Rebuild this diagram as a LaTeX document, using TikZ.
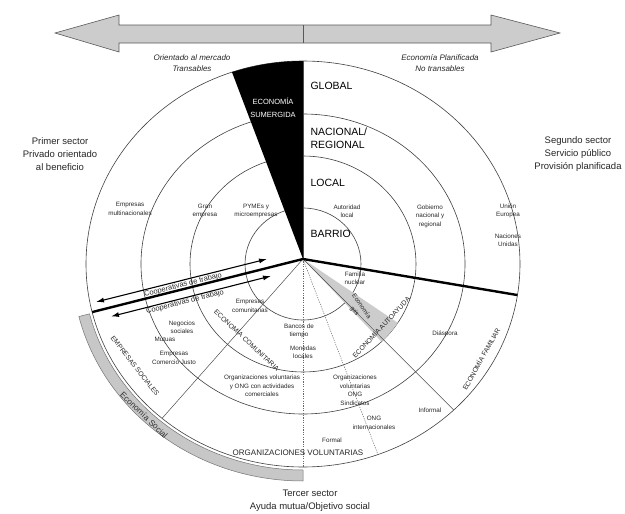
\documentclass[tikz,border=0pt]{standalone}
\usepackage{fontspec}
\setmainfont{Liberation Sans}
\usetikzlibrary{arrows.meta}
\begin{document}
\begin{tikzpicture}[x=1pt,y=-1pt,
  ring/.style={draw=black!75, line width=0.6pt},
  thin/.style={draw=black!70, line width=0.5pt},
  thick/.style={draw=black, line width=2.4pt},
  dots/.style={draw=black!60, line width=0.5pt, dash pattern=on 1.2pt off 1.2pt},
  coop/.style={draw=black, line width=1.1pt, {Latex[length=8pt,width=5pt]}-{Latex[length=8pt,width=5pt]}},
  lvl/.style={font=\fontsize{10.5}{13}\selectfont, anchor=west, align=left},
  sm/.style={font=\fontsize{6.3}{8.5}\selectfont, align=center, text=black!85},
  rl/.style={font=\fontsize{6.8}{8}\selectfont, text=black!85},
  sec/.style={font=\fontsize{9.5}{13}\selectfont, align=center, text=black!85},
  ital/.style={font=\fontsize{8}{11.5}\selectfont\itshape, align=center, text=black!85}]
\useasboundingbox (0,0) rectangle (625,514);

% top arrow
\filldraw[fill=black!20, draw=black!65, line width=0.6pt]
  (55,33) -- (119,15) -- (119,25) -- (491,25) -- (491,15) -- (560,33)
  -- (491,52) -- (491,43) -- (119,43) -- (119,52) -- cycle;
\draw[black!65, line width=0.6pt] (303,25) -- (303,43);
\node[ital] (om) at (192,63) {Orientado al mercado\\Transables};
\node[ital] (ep) at (440,63) {Economía Planificada\\No transables};

\begin{scope}[shift={(303,264)}]
  % gray band Economia Social
  \filldraw[fill=black!22, draw=black!55, line width=0.5pt]
    (90:220 and 206) arc[start angle=90, end angle=166, x radius=220, y radius=206]
    -- (166:231 and 217) arc[start angle=166, end angle=90, x radius=231, y radius=217] -- cycle;
  % rings
  \draw[ring] (0,0) ellipse [x radius=217, y radius=203];
  \draw[ring] (0,0) ellipse [x radius=162, y radius=150];
  \draw[ring] (0,0) ellipse [x radius=113, y radius=108];
  \draw[ring] (0,0) ellipse [x radius=58, y radius=56];
  \coordinate (hub) at (0,-5);
  % black wedge
  \fill[black] (hub) -- (-109.1:217 and 203)
    arc[start angle=-109.1, end angle=-90, x radius=217, y radius=203] -- cycle;
  % gray wedge (economia gris)
  \fill[black!20] (hub) -- (33:113 and 108) arc[start angle=33, end angle=46, x radius=113, y radius=108] -- cycle;
  \coordinate (top) at (-90:217 and 203);
  \coordinate (ll) at (130.5:217 and 203);
  \coordinate (dr) at (46:217 and 203);
  \coordinate (db) at (90:217 and 203);
  \coordinate (dd) at (69.8:217 and 203);
  \coordinate (tr) at (8.8:217 and 203);
  \coordinate (tl) at (166.3:217 and 203);
\end{scope}

\draw[thin] (hub) -- (top);
\draw[thin] (hub) -- (ll);
\draw[thin] (hub) -- (dr);
\draw[dots] (hub) -- (db);
\draw[dots] (hub) -- (dd);
\draw[thick] (hub) -- (tr);
\draw[thick] (hub) -- (tl);

% cooperativas arrows
\coordinate (c1a) at (96,302);
\coordinate (c1b) at (267,259);
\coordinate (c2a) at (111,316.5);
\coordinate (c2b) at (271,276);
\draw[coop] (c1a) -- (c1b);
\draw[coop] (c2a) -- (c2b);
\node[rl, rotate=14.1, font=\fontsize{7.5}{9}\selectfont, inner sep=1pt] (co1) at (183,285) {Cooperativas de trabajo};
\node[rl, rotate=14.1, font=\fontsize{7.5}{9}\selectfont, inner sep=1pt] (co2) at (185,302) {Cooperativas de trabajo};

% level labels
\node[lvl] (gl) at (307,86) {GLOBAL};
\node[lvl] (nr) at (307,138) {NACIONAL/\\REGIONAL};
\node[lvl] (lo) at (307,183) {LOCAL};
\node[lvl] (ba) at (307,234) {BARRIO};
\node[font=\fontsize{7.5}{12.5}\selectfont, text=white, align=center] (es) at (273,108) {ECONOMÍA\\SUMERGIDA};

% sector labels
\node[sec] (s1) at (60,154) {Primer sector\\Privado orientado\\al beneficio};
\node[sec] (s2) at (578,154) {Segundo sector\\Servicio público\\Provisión planificada};
\node[sec] (s3) at (310,501) {Tercer sector\\Ayuda mutua/Objetivo social};

% small labels, upper half
\node[sm] (a1) at (130,209) {Empresas\\multinacionales};
\node[sm] (a2) at (205,211) {Gran\\empresa};
\node[sm] (a3) at (256,211) {PYMEs y\\microempresas};
\node[sm] (a4) at (347,211) {Autoridad\\local};
\node[sm] (a5) at (430,216) {Gobierno\\nacional y\\regional};
\node[sm] (a6) at (508,211) {Unión\\Europea};
\node[sm] (a7) at (508,240) {Naciones\\Unidas};

% small labels, lower half
\node[sm] (b1) at (355,278) {Familia\\nuclear};
\node[sm] (b2) at (250,306) {Empresas\\comunitarias};
\node[sm] (b3) at (182,327) {Negocios\\sociales};
\node[sm] (b4) at (165,339) {Mutuas};
\node[sm] (b5) at (174,358) {Empresas\\Comercio Justo};
\node[sm] (b6) at (299,331) {Bancos de\\tiempo};
\node[sm] (b7) at (303,352) {Monedas\\locales};
\node[sm] (b8) at (445,334) {Diáspora};
\node[sm] (b9) at (262,386) {Organizaciones voluntarias\\y ONG con actividades\\comerciales};
\node[sm] (b10) at (355,390) {Organizaciones\\voluntarias\\ONG\\Sindicatos};
\node[sm] (b11) at (430,410) {Informal};
\node[sm] (b12) at (374,423) {ONG\\internacionales};
\node[sm] (b13) at (332,440) {Formal};
\node[font=\fontsize{8}{10}\selectfont, text=black!85] (b14) at (298,453) {ORGANIZACIONES VOLUNTARIAS};

% rotated ring labels
\node[rl, rotate=-43, inner sep=1pt] (r1) at (247,340) {ECONOMÍA COMUNITARIA};
\node[rl, rotate=-52, inner sep=1pt] (r2) at (135,366) {EMPRESAS SOCIALES};
\node[rl, rotate=47, inner sep=1pt] (r3) at (381,327) {ECONOMÍA AUTOAYUDA};
\node[rl, rotate=61, inner sep=1pt] (r4) at (481,359) {ECONOMÍA FAMILIAR};
\node[sm, rotate=-55, inner sep=1pt] (r5) at (358,309) {Economía\\gris};
\node[font=\fontsize{8.3}{10}\selectfont, text=black!80, rotate=-44, inner sep=0pt] (r6) at (144,415) {Economía Social};
\end{tikzpicture}
\end{document}
